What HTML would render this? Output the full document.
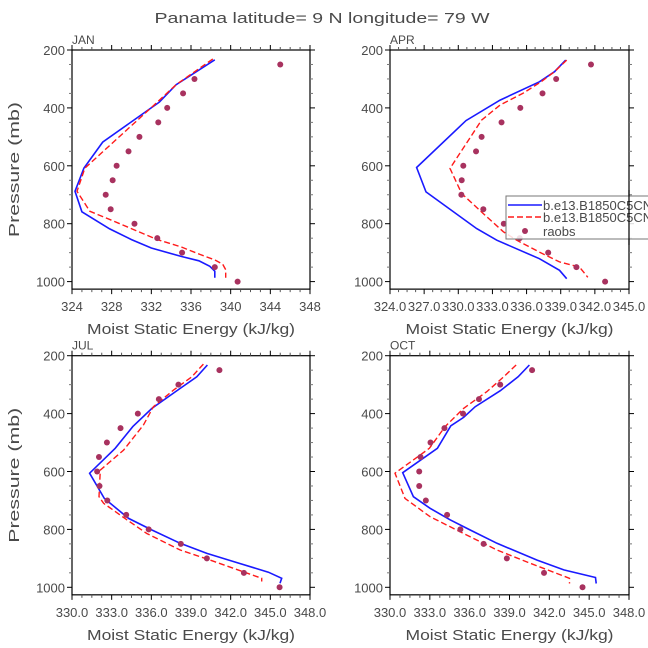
<!DOCTYPE html>
<html><head><meta charset="utf-8">
<style>
html,body{margin:0;padding:0;background:#fff;}
svg{display:block;}
text{font-family:"Liberation Sans",sans-serif;fill:#4a4a4a;}
</style></head>
<body>
<svg id="c" width="648" height="648" viewBox="0 0 648 648" xmlns="http://www.w3.org/2000/svg">
<text x="322" y="23" font-size="15" text-anchor="middle" textLength="335" lengthAdjust="spacingAndGlyphs">Panama  latitude= 9 N longitude= 79 W</text>
</svg>
<script>
// Observation pressure levels (mb)
const obsP = [250,300,350,400,450,500,550,600,650,700,750,800,850,900,950,1000];
// JAN
const janObs = [345.0,336.35,335.2,333.6,332.7,330.8,329.7,328.5,328.1,327.4,327.9,330.3,332.6,335.1,338.4,340.7];
const janBlueP = [234,320,380,518,608,688,759,818,855,884,913,928,947,964,987];
const janBlueE = [338.4,334.5,332.8,327.1,325.2,324.3,325.0,327.8,330.0,332.0,335.0,336.8,337.9,338.4,338.4];
const janRedP = [231,320,380,608,688,757,791,855,880,906,925,940,959,987];
const janRedE = [338.2,334.5,332.6,325.3,324.5,325.8,328.2,332.6,335.0,336.9,338.4,339.2,339.5,339.5];
// APR
const aprObs = [341.66,338.6,337.4,335.45,333.8,332.05,331.56,330.44,330.3,330.27,332.2,334.0,335.4,337.9,340.38,342.9];
const aprBlueP = [235,275,310,373,444,606,690,817,857,921,961,990];
const aprBlueE = [339.44,338.45,337.13,333.67,330.68,326.34,327.16,331.62,333.38,337.13,338.89,339.53];
const aprRedP = [235,275,310,350,390,442,609,696,765,828,857,898,932,950,985];
const aprRedE = [339.53,338.45,337.27,335.67,333.67,332.05,329.27,330.3,332.2,333.96,335.13,337.13,338.89,340.65,341.38];
// JUL
const julObs = [341.15,338.05,336.57,334.98,333.67,332.64,332.04,331.9,332.08,332.67,334.1,335.8,338.23,340.2,343.0,345.7];
const julBlueP = [232,273,313,382,445,520,606,693,762,802,848,883,911,948,969,986];
const julBlueE = [340.24,339.44,338.18,336.04,334.6,333.27,331.33,332.44,334.28,336.04,338.18,340.2,342.2,344.85,345.86,345.73];
const julRedP = [229,273,319,376,439,526,595,687,710,767,814,871,906,969,980];
const julRedE = [339.94,339.06,337.67,336.16,335.41,333.9,332.14,332.04,332.39,334.15,335.66,338.18,340.45,344.35,344.35];
// OCT
const octObs = [340.7,338.3,336.7,335.5,334.1,333.05,332.3,332.2,332.2,332.7,334.3,335.3,337.05,338.8,341.6,344.5];
const octBlueP = [232,273,321,376,413,442,520,604,687,727,767,802,848,906,940,966,987];
const octBlueE = [340.5,339.65,338.31,336.42,335.54,334.58,333.57,330.96,331.76,333.02,334.53,336.04,338.06,341.08,343.09,345.48,345.53];
const octRedP = [232,273,324,382,445,520,606,693,756,814,871,917,969,987];
const octRedE = [339.5,338.56,337.3,335.54,334.15,332.97,330.38,331.13,333.02,335.54,338.06,340.57,343.52,343.52];
// Axis ticks
const yTicks = [200,400,600,800,1000];
const xTicksJan = [324,328,332,336,340,344,348];
const xTickLabelsJan = ["324","328","332","336","340","344","348"];
const xTicksApr = [324,327,330,333,336,339,342,345];
const xTickLabelsApr = ["324.0","327.0","330.0","333.0","336.0","339.0","342.0","345.0"];
const xTicksBot = [330,333,336,339,342,345,348];
const xTickLabelsBot = ["330.0","333.0","336.0","339.0","342.0","345.0","348.0"];
const legendLabels = ["b.e13.B1850C5CN","b.e13.B1850C5CN","raobs"];

const svg = document.getElementById('c');
const NS = 'http://www.w3.org/2000/svg';
function mk(tag, attrs, parent){
  const e = document.createElementNS(NS, tag);
  for (const k in attrs) e.setAttribute(k, attrs[k]);
  (parent||svg).appendChild(e);
  return e;
}

const panels = [
  {id:'jan', title:'JAN', x0:72, x1:310, y0:50, xmin:324, xmax:348, ticks:xTicksJan, labels:xTickLabelsJan, minor:4, obs:janObs, bp:janBlueP, be:janBlueE, rp:janRedP, re:janRedE, ylab:true},
  {id:'apr', title:'APR', x0:390, x1:629, y0:50, xmin:324, xmax:345, ticks:xTicksApr, labels:xTickLabelsApr, minor:4, obs:aprObs, bp:aprBlueP, be:aprBlueE, rp:aprRedP, re:aprRedE, ylab:false},
  {id:'jul', title:'JUL', x0:72, x1:310, y0:355.7, xmin:330, xmax:348, ticks:xTicksBot, labels:xTickLabelsBot, minor:4, obs:julObs, bp:julBlueP, be:julBlueE, rp:julRedP, re:julRedE, ylab:true},
  {id:'oct', title:'OCT', x0:390, x1:629, y0:355.7, xmin:330, xmax:348, ticks:xTicksBot, labels:xTickLabelsBot, minor:4, obs:octObs, bp:octBlueP, be:octBlueE, rp:octRedP, re:octRedE, ylab:false}
];

panels.forEach(pn => {
  const g = mk('g', {});
  
  
  const ppx = 0.2895; // px per mb
  const yS = p => pn.y0 + (p - 200) * ppx;
  const xS = e => pn.x0 + (e - pn.xmin) * (pn.x1 - pn.x0) / (pn.xmax - pn.xmin);
  const yBot = yS(1026);
  const fr = mk('rect', {x:pn.x0, y:pn.y0, width:pn.x1-pn.x0, height:yBot-pn.y0, fill:'none', stroke:'#000', 'stroke-width':1.2}, g);
  
  
  const step = pn.ticks[1] - pn.ticks[0];
  for (let i = 0; i < pn.ticks.length; i++) {
    const v = pn.ticks[i];
    const x = xS(v);
    mk('line', {x1:x, x2:x, y1:yBot, y2:yBot+5, stroke:'#000'}, g);
    mk('line', {x1:x, x2:x, y1:pn.y0, y2:pn.y0-5, stroke:'#000'}, g);
    const t = mk('text', {x:x, y:yBot+22, 'font-size':13, 'text-anchor':'middle'}, g);
    t.textContent = pn.labels[i];
    
    
    if (i < pn.ticks.length - 1) {
      for (let m = 1; m < pn.minor; m++) {
        const xm = xS(v + step * m / pn.minor);
        mk('line', {x1:xm, x2:xm, y1:yBot, y2:yBot+3, stroke:'#555'}, g);
        mk('line', {x1:xm, x2:xm, y1:pn.y0, y2:pn.y0-3, stroke:'#555'}, g);
      }
    }
  }
  for (let p = 200; p <= 1000; p += 50) {
    const y = yS(p);
    const major = yTicks.indexOf(p) >= 0;
    const L = major ? 5 : 3;
    mk('line', {x1:pn.x0, x2:pn.x0-L, y1:y, y2:y, stroke:major?'#000':'#777'}, g);
    mk('line', {x1:pn.x1, x2:pn.x1+L, y1:y, y2:y, stroke:major?'#000':'#777'}, g);
  }
  yTicks.forEach(p => {
    const t = mk('text', {x:pn.x0-7, y:yS(p)+5, 'font-size':13, 'text-anchor':'end'}, g);
    t.textContent = String(p);
    
    
  });
  const tl = mk('text', {x:pn.x0, y:pn.y0-6, 'font-size':12}, g);
  tl.textContent = pn.title;
  
  
  const xt = mk('text', {x:(pn.x0+pn.x1)/2, y:yBot+45, 'font-size':15, 'text-anchor':'middle', textLength:208, lengthAdjust:'spacingAndGlyphs'}, g);
  xt.textContent = 'Moist Static Energy (kJ/kg)';
  
  
  if (pn.ylab) {
    const cy = (pn.y0 + yBot) / 2;
    const yt = mk('text', {x:19, y:cy, 'font-size':15, 'text-anchor':'middle', transform:'rotate(-90 19 '+cy+')', textLength:135, lengthAdjust:'spacingAndGlyphs'}, g);
    yt.textContent = 'Pressure (mb)';
    
    
  }
  const pts = (P, E) => P.map((p, i) => xS(E[i]).toFixed(1) + ',' + yS(p).toFixed(1)).join(' ');
  const bl = mk('polyline', {points:pts(pn.bp, pn.be), fill:'none', stroke:'#1a1aff', 'stroke-width':1.6}, g);
  
  
  const rl = mk('polyline', {points:pts(pn.rp, pn.re), fill:'none', stroke:'#ff1a1a', 'stroke-width':1.4, 'stroke-dasharray':'6,3'}, g);
  
  
  obsP.forEach((p, i) => {
    const c = mk('circle', {cx:xS(pn.obs[i]), cy:yS(p), r:3, fill:'#a8325f'}, g);
    
    
  });
});

const lg = mk('g', {});


mk('rect', {x:506, y:196, width:160, height:43, fill:'#fff', 'fill-opacity':0.85, stroke:'#777', 'stroke-width':1}, lg);
const l1 = mk('line', {x1:508, x2:542, y1:205, y2:205, stroke:'#1a1aff', 'stroke-width':1.6}, lg);


const l2 = mk('line', {x1:508, x2:542, y1:217, y2:217, stroke:'#ff1a1a', 'stroke-width':1.4, 'stroke-dasharray':'6,3'}, lg);


const l3 = mk('circle', {cx:525, cy:231, r:3, fill:'#a8325f'}, lg);


[205,217,231].forEach((y, i) => {
  const t = mk('text', {x:543, y:y+5, 'font-size':13}, lg);
  t.textContent = legendLabels[i];
  
  
});
mk('line', {x1:629, x2:629, y1:190, y2:245, stroke:'#000', 'stroke-width':1.2}, lg);
</script>
</body></html>
